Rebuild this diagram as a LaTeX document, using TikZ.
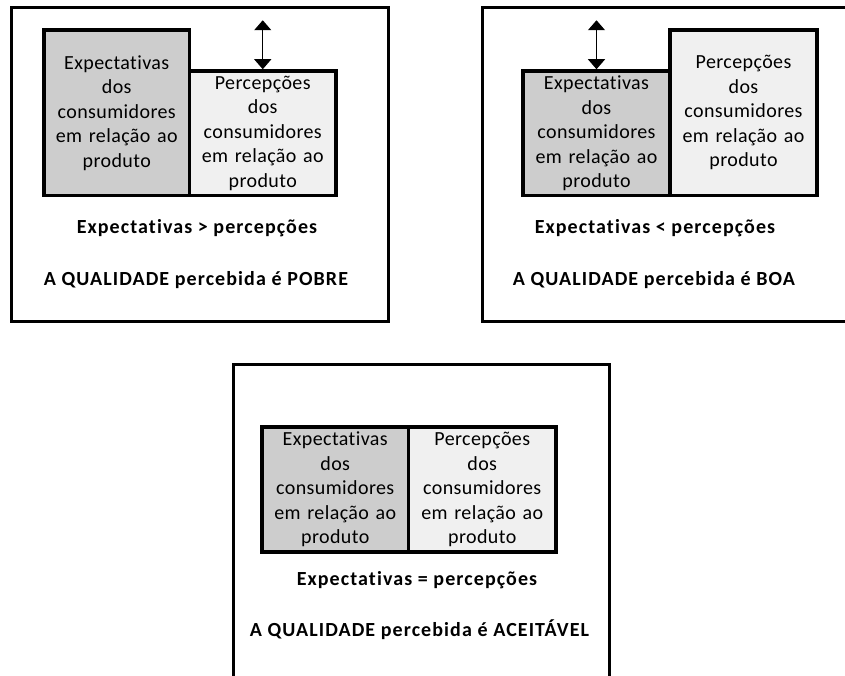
\documentclass[tikz,border=0pt]{standalone}
\usepackage{fontspec}
\setmainfont{Carlito}[Ligatures=NoCommon]
\usetikzlibrary{arrows.meta}
\definecolor{expfill}{RGB}{205,205,205}
\definecolor{perfill}{RGB}{240,240,240}
\begin{document}
\begin{tikzpicture}[x=1pt,y=-1pt,
  frame/.style={draw=black,line width=3pt},
  cell/.style={draw=black,line width=3.5pt,inner sep=0pt,text width=142pt,
    align=center,font=\fontsize{20}{24.5}\selectfont\addfontfeature{LetterSpace=2}},
  expcell/.style={cell,fill=expfill},
  percell/.style={cell,fill=perfill},
  verdict/.style={font=\fontsize{20}{23}\selectfont\bfseries\addfontfeature{LetterSpace=5.5},
    inner sep=0pt},
  gap/.style={{Triangle[width=17pt,length=10pt]}-{Triangle[width=17pt,length=10pt]},
    line width=1.2pt}
]
\clip (0,0) rectangle (845,676);
\fill[white] (0,0) rectangle (845,676);

% ---- expectations exceed perceptions
\draw[frame] (11.5,8) rectangle (388.5,321);
\node[expcell,minimum width=145.5pt,minimum height=165.5pt] (e1) at (116.75,112.75)
  {Expectativas\\dos\\consumidores\\em relação ao\\produto};
\node[percell,minimum width=146.5pt,minimum height=124.5pt] (p1) at (262.75,133.25)
  {Percepções\\dos\\consumidores\\em relação ao\\produto};
\path (p1.north) ++(0,-49) coordinate (t1);
\draw[gap] (t1) -- (p1.north);
\node[verdict] (r1) at (197,228) {Expectativas > percepções};
\node[verdict] (q1) at (196,280) {A QUALIDADE percebida é POBRE};

% ---- expectations below perceptions
\draw[frame] (482,8) rectangle (870,321);
\node[expcell,minimum width=147pt,minimum height=124.5pt] (e2) at (596.5,133.25)
  {Expectativas\\dos\\consumidores\\em relação ao\\produto};
\node[percell,minimum width=147pt,minimum height=165.5pt] (p2) at (743.5,112.75)
  {Percepções\\dos\\consumidores\\em relação ao\\produto};
\path (e2.north) ++(0,-49) coordinate (t2);
\draw[gap] (t2) -- (e2.north);
\node[verdict] (r2) at (655,228) {Expectativas < percepções};
\node[verdict] (q2) at (654,280) {A QUALIDADE percebida é BOA};

% ---- expectations equal perceptions
\draw[frame] (233,364) rectangle (609,700);
\node[expcell,minimum width=146.5pt,minimum height=125pt] (e3) at (335.25,489.5)
  {Expectativas\\dos\\consumidores\\em relação ao\\produto};
\node[percell,minimum width=147.5pt,minimum height=125pt] (p3) at (482.25,489.5)
  {Percepções\\dos\\consumidores\\em relação ao\\produto};
\node[verdict] (r3) at (417,580) {Expectativas = percepções};
\node[verdict] (q3) at (419.5,630) {A QUALIDADE percebida é ACEITÁVEL};
\end{tikzpicture}
\end{document}
